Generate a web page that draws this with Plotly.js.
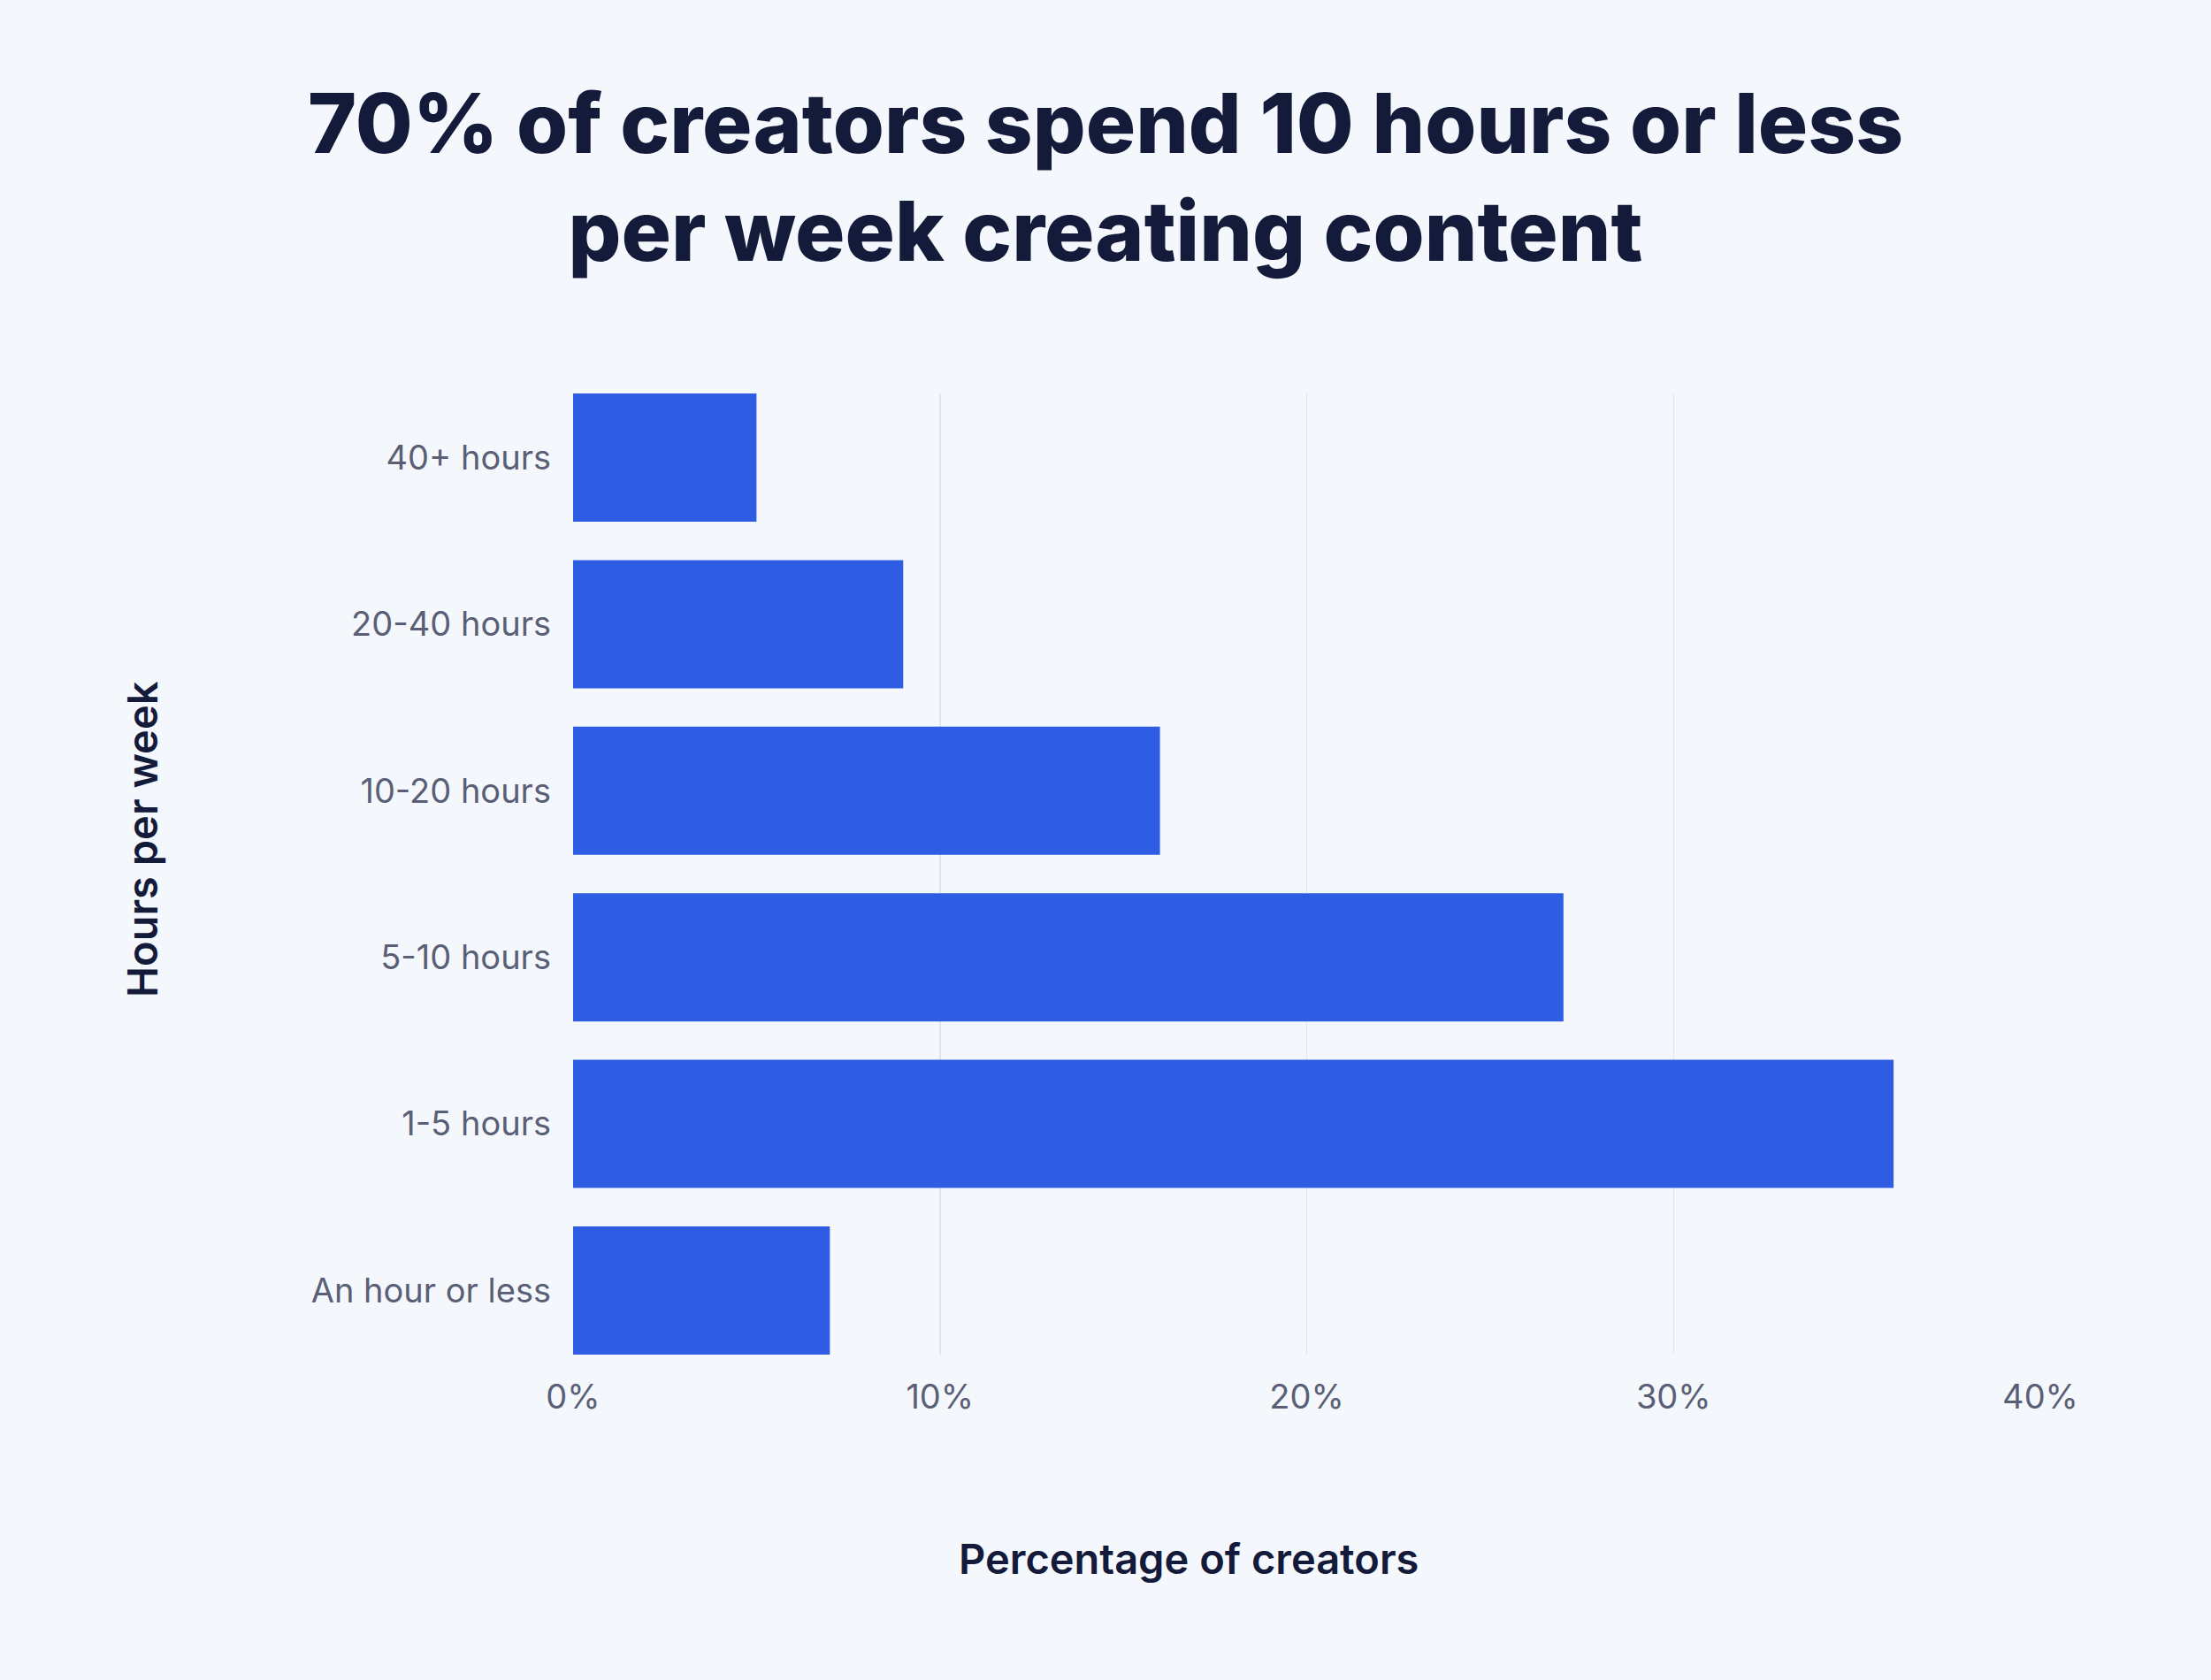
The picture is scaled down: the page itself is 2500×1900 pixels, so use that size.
<!DOCTYPE html>
<html>
<head>
<meta charset="utf-8">
<script src="https://cdn.plot.ly/plotly-3.0.1.min.js"></script>
<style>
  html, body { margin: 0; padding: 0; background: #F4F8FD; }
  #chart { width: 2500px; height: 1900px; }
</style>
</head>
<body>
<div id="chart"></div>
<script>
// Weekly hours spent creating content, share of creators (%)
const categories = ["An hour or less", "1-5 hours", "5-10 hours", "10-20 hours", "20-40 hours", "40+ hours"];
const shares = [7, 36, 27, 16, 9, 5];
const xTickValues = [0, 10, 20, 30, 40];
const xTickLabels = ["0%", "10%", "20%", "30%", "40%"];

const titleText = "70% of creators spend 10 hours or less<br>per week creating content";
const xTitleText = "Percentage of creators";
const yTitleText = "Hours per week";

const FONT = "Inter, 'Noto Sans', sans-serif";
const BAR_GAP = 0.23;

const trace = {
  type: "bar",
  orientation: "h",
  y: categories,
  x: shares,
  marker: { color: "#2E5DE3", line: { width: 0 } },
  hoverinfo: "none"
};

const layout = {
  width: 2500,
  height: 1900,
  paper_bgcolor: "#F4F8FD",
  plot_bgcolor: "#F4F8FD",
  margin: { l: 648, r: 193, t: 445, b: 368 },
  bargap: BAR_GAP,
  showlegend: false,
  font: { family: FONT, color: "#5A5F75", size: 38 },
  title: {
    text: titleText,
    x: 0.5,
    xanchor: "center",
    y: 0.909,
    yanchor: "middle",
    font: { family: FONT, size: 94, color: "#141A3A", weight: 800 }
  },
  xaxis: {
    range: [0, 40],
    tickvals: xTickValues,
    ticktext: xTickLabels,
    showgrid: true,
    gridcolor: "#E1E5EC",
    gridwidth: 1.5,
    zeroline: false,
    showline: false,
    ticks: "",
    ticklabelstandoff: 22,
    tickfont: { family: FONT, size: 38, color: "#5A5F75" },
    fixedrange: true
  },
  yaxis: {
    type: "category",
    categoryorder: "array",
    categoryarray: categories,
    range: [-0.5 + BAR_GAP / 2, categories.length - 0.5 - BAR_GAP / 2],
    showgrid: false,
    zeroline: false,
    showline: false,
    ticks: "",
    ticklabelstandoff: 24,
    tickfont: { family: FONT, size: 38, color: "#5A5F75" },
    fixedrange: true
  },
  annotations: [
    {
      text: xTitleText,
      xref: "paper", yref: "paper",
      x: (1344 - 648) / (2307 - 648),
      y: -(1762 - 1532) / (1532 - 445),
      xanchor: "center", yanchor: "middle",
      showarrow: false,
      font: { family: FONT, size: 47, color: "#141A3A", weight: 600 }
    },
    {
      text: yTitleText,
      xref: "paper", yref: "paper",
      x: -(648 - 160) / (2307 - 648),
      y: (1532 - 949) / (1532 - 445),
      xanchor: "center", yanchor: "middle",
      textangle: -90,
      showarrow: false,
      font: { family: FONT, size: 47, color: "#141A3A", weight: 600 }
    }
  ]
};

Plotly.newPlot("chart", [trace], layout, { displayModeBar: false, staticPlot: true });
</script>
</body>
</html>
